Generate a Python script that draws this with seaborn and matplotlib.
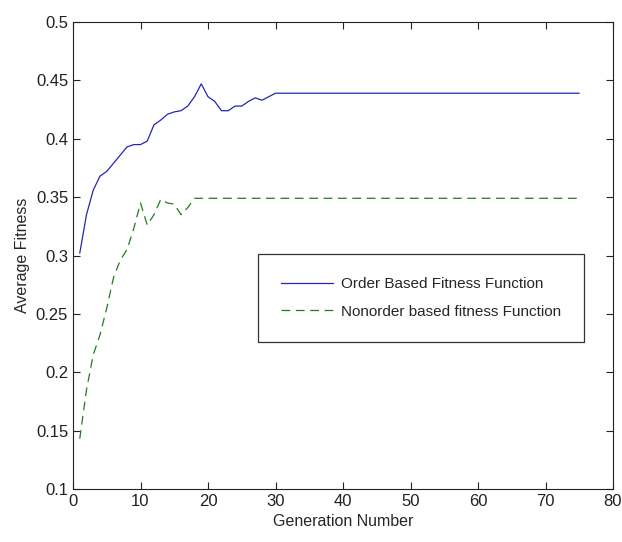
import numpy as np
import pandas as pd
import seaborn as sns
import matplotlib
matplotlib.use("Agg")
import matplotlib.pyplot as plt

# values
order_gen = list(range(1, 31)) + [75]
order_fitness = [0.302, 0.335, 0.356, 0.368, 0.372, 0.379, 0.386, 0.393, 0.395, 0.395,
                 0.398, 0.412, 0.416, 0.421, 0.423, 0.424, 0.428, 0.436, 0.447, 0.436,
                 0.432, 0.424, 0.424, 0.428, 0.428, 0.432, 0.435, 0.433, 0.436, 0.439,
                 0.439]

nonorder_gen = list(range(1, 19)) + [75]
nonorder_fitness = [0.143, 0.185, 0.215, 0.232, 0.255, 0.281, 0.296, 0.305, 0.323, 0.345,
                    0.326, 0.335, 0.348, 0.345, 0.344, 0.335, 0.341, 0.349, 0.349]

x_ticks = [0, 10, 20, 30, 40, 50, 60, 70, 80]
y_ticks = [0.1, 0.15, 0.2, 0.25, 0.3, 0.35, 0.4, 0.45, 0.5]
y_tick_labels = ["0.1", "0.15", "0.2", "0.25", "0.3", "0.35", "0.4", "0.45", "0.5"]

sns.set_style("ticks")
plt.rcParams['font.family'] = ['Liberation Sans Narrow', 'Liberation Sans', 'DejaVu Sans']

order_df = pd.DataFrame({"gen": order_gen, "fit": order_fitness})
nonorder_df = pd.DataFrame({"gen": nonorder_gen, "fit": nonorder_fitness})

fig = plt.figure(figsize=(6.22, 5.42), dpi=100)
ax = fig.add_axes([73 / 622, 53 / 542, 540 / 622, 467 / 542])

sns.lineplot(data=order_df, x="gen", y="fit", ax=ax, color="#2626b0", linewidth=0.9,
             label="Order Based Fitness Function")
sns.lineplot(data=nonorder_df, x="gen", y="fit", ax=ax, color="#237a23", linewidth=0.9,
             linestyle=(0, (7, 4.5)), label="Nonorder based fitness Function")

ax.set_xlim(0, 80)
ax.set_ylim(0.1, 0.5)
ax.set_xticks(x_ticks)
ax.set_yticks(y_ticks)
ax.set_yticklabels(y_tick_labels)
ax.tick_params(direction="in", top=True, right=True, labelsize=12, length=5, width=0.8,
               colors="#222222")
for s in ax.spines.values():
    s.set_visible(True)
    s.set_linewidth(0.8)
    s.set_color("#222222")
ax.set_xlabel("Generation Number", fontsize=11.5)
ax.set_ylabel("Average Fitness", fontsize=11.5)

leg = ax.legend(loc="upper left", bbox_to_anchor=(0.343, 0.503), fontsize=11,
                frameon=True, fancybox=False, edgecolor="black", borderaxespad=0,
                handlelength=3.4, borderpad=1.5, labelspacing=0.9, handletextpad=0.5)
leg.get_frame().set_linewidth(0.9)

fig.savefig("out.png", dpi=100)
